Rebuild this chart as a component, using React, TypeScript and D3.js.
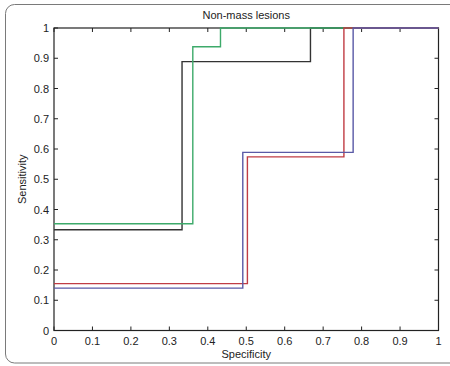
import * as d3 from "d3";

// ROC step curves, points [specificity, sensitivity], drawn as steps
const BLACK = [[0, 0.333], [0.333, 0.889], [0.667, 1], [1, 1]];
const GREEN = [[0, 0.353], [0.361, 0.938], [0.433, 1], [1, 1]];
const RED = [[0, 0.155], [0.503, 0.574], [0.754, 1], [1, 1]];
const BLUE = [[0, 0.14], [0.491, 0.589], [0.778, 1], [1, 1]];

const SERIES = [
  { name: "black", color: "#333333", pts: BLACK },
  { name: "green", color: "#3daa6a", pts: GREEN },
  { name: "red", color: "#c03c44", pts: RED },
  { name: "blue", color: "#5a5aa6", pts: BLUE },
];

const TICKS = [0, 0.1, 0.2, 0.3, 0.4, 0.5, 0.6, 0.7, 0.8, 0.9, 1];

const width = 450;
const height = 366;
const plot = { left: 54, right: 438.5, top: 28, bottom: 330.5 };
const TICK_LEN = 4;
const FONT = "Arial, 'Liberation Sans', sans-serif";

export default function App() {
  const x = d3.scaleLinear().domain([0, 1]).range([plot.left, plot.right]);
  const y = d3.scaleLinear().domain([0, 1]).range([plot.bottom, plot.top]);

  const line = d3
    .line<number[]>()
    .x((d) => x(d[0]))
    .y((d) => y(d[1]))
    .curve(d3.curveStepAfter);

  const fmt = (t: number) => (t === 0 || t === 1 ? String(t) : t.toFixed(1));

  return (
    <svg
      width={width}
      height={height}
      style={{ position: "absolute", left: 0, top: 0, background: "#fff" }}
      fontFamily={FONT}
    >
      {/* outer rounded frame */}
      <rect x={5.5} y={4.5} width={470} height={358.5} rx={9} fill="none" stroke="#7a7a7a" strokeWidth={1} />

      <text x={(plot.left + plot.right) / 2} y={18.5} textAnchor="middle" fontSize={11} fill="#222">
        Non-mass lesions
      </text>

      {/* ticks on all four sides, pointing inward */}
      <g stroke="#222" strokeWidth={1}>
        {TICKS.map((t) => (
          <g key={`tx${t}`}>
            <line x1={x(t)} x2={x(t)} y1={plot.bottom} y2={plot.bottom - TICK_LEN} />
            <line x1={x(t)} x2={x(t)} y1={plot.top} y2={plot.top + TICK_LEN} />
            <line x1={plot.left} x2={plot.left + TICK_LEN} y1={y(t)} y2={y(t)} />
            <line x1={plot.right} x2={plot.right - TICK_LEN} y1={y(t)} y2={y(t)} />
          </g>
        ))}
      </g>
      <rect
        x={plot.left}
        y={plot.top}
        width={plot.right - plot.left}
        height={plot.bottom - plot.top}
        fill="none"
        stroke="#222"
        strokeWidth={1.2}
      />

      {TICKS.map((t) => (
        <text key={`lx${t}`} x={x(t)} y={plot.bottom + 14} textAnchor="middle" fontSize={11} fill="#222">
          {fmt(t)}
        </text>
      ))}
      {TICKS.map((t) => (
        <text key={`ly${t}`} x={plot.left - 5} y={y(t) + 4} textAnchor="end" fontSize={11} fill="#222">
          {fmt(t)}
        </text>
      ))}

      <text x={(plot.left + plot.right) / 2} y={358} textAnchor="middle" fontSize={11} fill="#222">
        Specificity
      </text>
      <text
        transform={`translate(26, ${(plot.top + plot.bottom) / 2}) rotate(-90)`}
        textAnchor="middle"
        fontSize={11}
        fill="#222"
      >
        Sensitivity
      </text>

      {SERIES.map((s) => (
        <path key={s.name} d={line(s.pts) ?? ""} fill="none" stroke={s.color} strokeWidth={1.4} />
      ))}
    </svg>
  );
}
